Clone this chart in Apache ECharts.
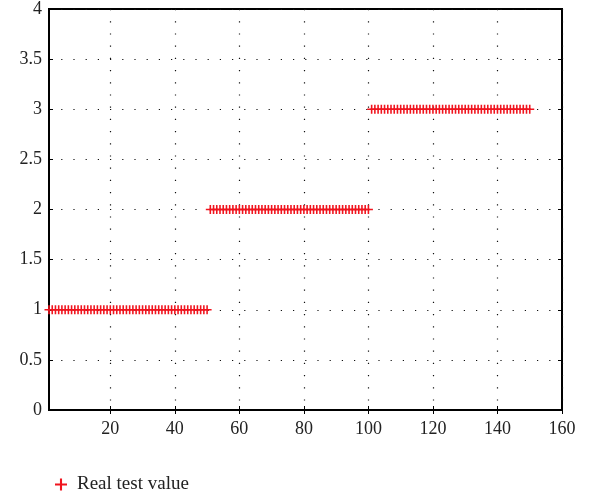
<!DOCTYPE html>
<html>
<head>
<meta charset="utf-8">
<script src="https://cdn.jsdelivr.net/npm/echarts@6/dist/echarts.min.js"></script>
<style>
  html, body { margin: 0; padding: 0; background: #fff; }
  #main { width: 591px; height: 497px; }
</style>
</head>
<body>
<div id="main"></div>
<script>
// real class value of each test sample (sample number = position, 1..150)
var realValues = [
  1, 1, 1, 1, 1, 1, 1, 1, 1, 1, 1, 1, 1, 1, 1, 1, 1, 1, 1, 1, 1, 1, 1, 1, 1,
  1, 1, 1, 1, 1, 1, 1, 1, 1, 1, 1, 1, 1, 1, 1, 1, 1, 1, 1, 1, 1, 1, 1, 1, 1,
  2, 2, 2, 2, 2, 2, 2, 2, 2, 2, 2, 2, 2, 2, 2, 2, 2, 2, 2, 2, 2, 2, 2, 2, 2,
  2, 2, 2, 2, 2, 2, 2, 2, 2, 2, 2, 2, 2, 2, 2, 2, 2, 2, 2, 2, 2, 2, 2, 2, 2,
  3, 3, 3, 3, 3, 3, 3, 3, 3, 3, 3, 3, 3, 3, 3, 3, 3, 3, 3, 3, 3, 3, 3, 3, 3,
  3, 3, 3, 3, 3, 3, 3, 3, 3, 3, 3, 3, 3, 3, 3, 3, 3, 3, 3, 3, 3, 3, 3, 3, 3
]
var xTicks = [20, 40, 60, 80, 100, 120, 140, 160]
var seriesName = 'Real test value'

var points = realValues.map(function (v, i) { return [i + 1, v] })

var plus = 'path://M3.3,0h1.4v3.3h3.3v1.4h-3.3v3.3h-1.4v-3.3h-3.3v-1.4h3.3z'
var font = '"Liberation Serif", "DejaVu Serif", serif'
var dotted = { color: '#111', width: 1.2, type: [1.2, 11] }

var chart = echarts.init(document.getElementById('main'))
chart.setOption({
  animation: false,
  textStyle: { fontFamily: font },
  grid: {
    left: 49, right: 29, top: 7, bottom: 87,
    show: true, borderColor: '#000', borderWidth: 2, backgroundColor: 'transparent'
  },
  legend: {
    data: [{ name: seriesName, icon: plus }],
    left: 50, top: 470,
    itemWidth: 12, itemHeight: 12,
    textStyle: { fontFamily: font, fontSize: 19, color: '#222', padding: [0, 0, 0, 5] }
  },
  xAxis: [{
    type: 'value',
    min: 1, max: 160,
    axisLine: { show: true, onZero: false, lineStyle: { color: '#000', width: 2 } },
    axisTick: { show: true, inside: true, length: 4, customValues: xTicks, lineStyle: { color: '#000' } },
    axisLabel: { customValues: xTicks, margin: 10, fontSize: 18, color: '#222', fontFamily: font },
    splitLine: { show: true, lineStyle: dotted }
  }, {
    type: 'value',
    position: 'top',
    min: 1, max: 160,
    axisLine: { show: false },
    axisTick: { show: true, inside: true, length: 4, customValues: xTicks, lineStyle: { color: '#000' } },
    axisLabel: { show: false, customValues: xTicks },
    splitLine: { show: false }
  }],
  yAxis: [{
    type: 'value',
    min: 0, max: 4, interval: 0.5,
    axisLine: { show: true, onZero: false, lineStyle: { color: '#000', width: 2 } },
    axisTick: { show: true, inside: true, length: 4, lineStyle: { color: '#000' } },
    axisLabel: { margin: 7, fontSize: 18, color: '#222', fontFamily: font },
    splitLine: { show: true, lineStyle: dotted }
  }, {
    type: 'value',
    position: 'right',
    min: 0, max: 4, interval: 0.5,
    axisLine: { show: false },
    axisTick: { show: true, inside: true, length: 4, lineStyle: { color: '#000' } },
    axisLabel: { show: false },
    splitLine: { show: false }
  }],
  series: [{
    name: seriesName,
    type: 'scatter',
    data: points,
    symbol: plus,
    symbolSize: 9,
    itemStyle: { color: '#f0141e', opacity: 1 }
  }]
})
</script>
</body>
</html>
